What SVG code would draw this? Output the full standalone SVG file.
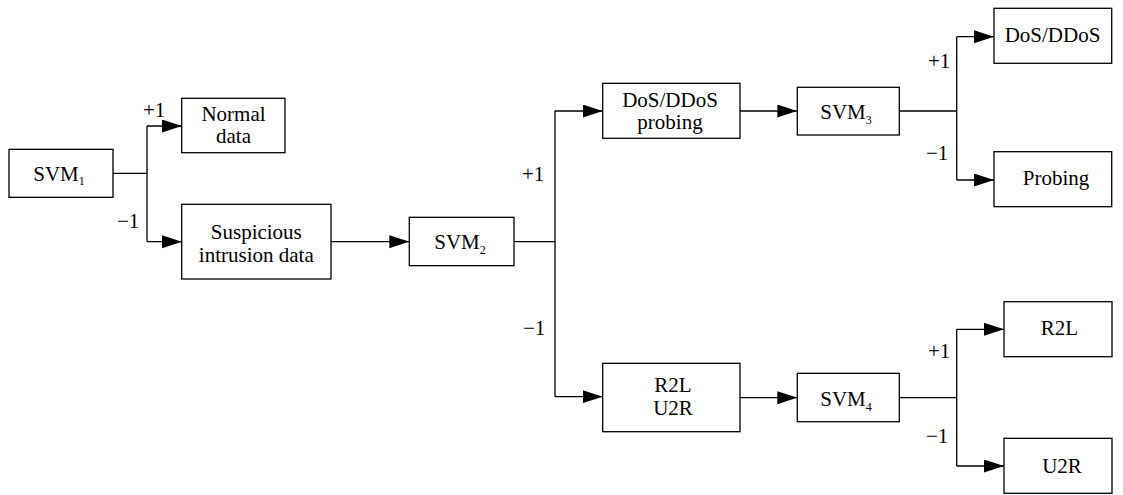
<svg xmlns="http://www.w3.org/2000/svg" width="1123" height="495" viewBox="0 0 1123 495">
  <defs>
    <marker id="arrow" markerUnits="userSpaceOnUse" markerWidth="20" markerHeight="14" refX="20" refY="6.5" orient="auto">
      <path d="M0,0 L20,6.5 L0,13 z" fill="#000"/>
    </marker>
    <style>
      rect.box { fill: #fff; stroke: #000; stroke-width: 1.3; }
      .conn path { fill: none; stroke: #000; stroke-width: 1.3; }
      .conn path.arr { marker-end: url(#arrow); }
      text { font-size: 21px; fill: #000; }
      text.c { text-anchor: middle; }
      tspan.sub { font-size: 12px; }
    </style>
  </defs>
  <rect width="1123" height="495" fill="#fff"/>

  <!-- connectors -->
  <g id="connectors" class="conn">
    <path d="M113,173.3 H147 M147,126 V241.7"/>
    <path class="arr" d="M147,126 H182"/>
    <path class="arr" d="M147,241.7 H182"/>
    <path class="arr" d="M331,241.7 H409.3"/>
    <path d="M514,241.7 H555 M555,111 V396.7"/>
    <path class="arr" d="M555,111 H602.7"/>
    <path class="arr" d="M555,396.7 H602.7"/>
    <path class="arr" d="M740,111 H797.3"/>
    <path d="M899.3,111 H956.7 M956.7,36.7 V180"/>
    <path class="arr" d="M956.7,36.7 H994"/>
    <path class="arr" d="M956.7,180 H994"/>
    <path class="arr" d="M740,397.7 H797.3"/>
    <path d="M899.3,397.7 H956.7 M956.7,329.3 V466"/>
    <path class="arr" d="M956.7,329.3 H1004"/>
    <path class="arr" d="M956.7,466 H1004"/>
  </g>

  <g font-family="'Liberation Serif', 'Times New Roman', 'DejaVu Serif', serif">
    <!-- branch labels -->
    <g id="labels">
      <text x="143" y="117">+1</text>
      <text x="117" y="228">−1</text>
      <text x="522" y="181">+1</text>
      <text x="523" y="335">−1</text>
      <text x="928" y="68">+1</text>
      <text x="926" y="160">−1</text>
      <text x="928" y="358">+1</text>
      <text x="926" y="443">−1</text>
    </g>

    <g id="svm1">
      <rect class="box" x="9" y="149.3" width="104" height="48"/>
      <text class="c" x="59" y="180.5">SVM<tspan class="sub" dy="4.5">1</tspan></text>
    </g>

    <g id="normal-data">
      <rect class="box" x="181.7" y="98.3" width="103.3" height="54.4"/>
      <text class="c" x="233.5" y="121">Normal</text>
      <text class="c" x="233.5" y="142.7">data</text>
    </g>

    <g id="suspicious">
      <rect class="box" x="181.7" y="204.3" width="149.3" height="74.7"/>
      <text class="c" x="256.3" y="239">Suspicious</text>
      <text class="c" x="256.3" y="261.7">intrusion data</text>
    </g>

    <g id="svm2">
      <rect class="box" x="409.3" y="217.3" width="104.7" height="48.4"/>
      <text class="c" x="460" y="249">SVM<tspan class="sub" dy="4.5">2</tspan></text>
    </g>

    <g id="dos-probing">
      <rect class="box" x="602.7" y="83.3" width="137.3" height="55"/>
      <text class="c" x="670" y="106.7">DoS/DDoS</text>
      <text class="c" x="670" y="129.3">probing</text>
    </g>

    <g id="svm3">
      <rect class="box" x="797.3" y="87.3" width="102" height="47.7"/>
      <text class="c" x="846" y="119.3">SVM<tspan class="sub" dy="4.5">3</tspan></text>
    </g>

    <g id="dos">
      <rect class="box" x="994" y="8.3" width="117.7" height="55"/>
      <text class="c" x="1052.5" y="41.7">DoS/DDoS</text>
    </g>

    <g id="probing">
      <rect class="box" x="994" y="151.7" width="117.7" height="55"/>
      <text class="c" x="1056" y="185">Probing</text>
    </g>

    <g id="r2l-u2r">
      <rect class="box" x="602.7" y="363.3" width="137.3" height="68.4"/>
      <text class="c" x="673" y="392.3">R2L</text>
      <text class="c" x="673" y="415">U2R</text>
    </g>

    <g id="svm4">
      <rect class="box" x="797.3" y="373.3" width="102" height="48.4"/>
      <text class="c" x="846" y="406">SVM<tspan class="sub" dy="4.5">4</tspan></text>
    </g>

    <g id="r2l">
      <rect class="box" x="1004" y="301.7" width="108" height="55"/>
      <text class="c" x="1059.5" y="335">R2L</text>
    </g>

    <g id="u2r">
      <rect class="box" x="1004" y="438.3" width="108" height="55"/>
      <text class="c" x="1062" y="472.7">U2R</text>
    </g>
  </g>
</svg>
